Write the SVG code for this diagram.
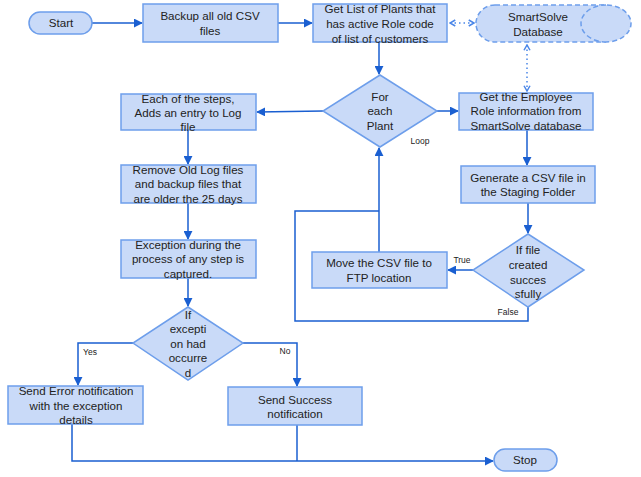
<svg xmlns="http://www.w3.org/2000/svg" width="641" height="477" viewBox="0 0 641 477">
<defs>
<style>
.n{fill:#c9daf8;stroke:#6d9eeb;stroke-width:1.5}
.d{fill:#c9daf8;stroke:#6d9eeb;stroke-width:1.5;stroke-dasharray:5,3}
.t{font-family:"Liberation Sans",Arial,sans-serif;font-size:11.6px;fill:#222;text-anchor:middle}
.l{font-family:"Liberation Sans",Arial,sans-serif;font-size:8.5px;fill:#222;text-anchor:middle}
.c{fill:none;stroke:#1a5fd1;stroke-width:1.5}
.a{marker-end:url(#ah)}
.dot{fill:none;stroke:#4a86e8;stroke-width:1.5;stroke-dasharray:1.5,3;marker-start:url(#oh);marker-end:url(#oh)}
</style>
<marker id="ah" viewBox="0 0 10 10" refX="9" refY="5" markerWidth="6" markerHeight="6" orient="auto" markerUnits="strokeWidth"><path d="M0,0 L10,5 L0,10 Z" fill="#1a5fd1"/></marker>
<marker id="oh" viewBox="0 0 10 10" refX="8" refY="5" markerWidth="5" markerHeight="5" orient="auto-start-reverse" markerUnits="strokeWidth"><path d="M1,1 L8,5 L1,9" fill="none" stroke="#4a86e8" stroke-width="2"/></marker>
</defs>
<rect width="641" height="477" fill="#fff"/>
<g id="connectors">
<path class="c a" d="M92,23 H142"/>
<path class="c a" d="M278,23 H312"/>
<path class="dot" d="M450,23 H474"/>
<path class="dot" d="M527,45 V91"/>
<path class="c a" d="M379,42 V74"/>
<path class="c a" d="M437,111 H458"/>
<path class="c a" d="M323,111 L257,112"/>
<path class="c a" d="M188,130 V164"/>
<path class="c a" d="M188,203 V239"/>
<path class="c a" d="M188,278 V306"/>
<path class="c a" d="M133,343 H78 V385"/>
<path class="c a" d="M243,343 H297 V386"/>
<path class="c" d="M297,425 V461"/>
<path class="c a" d="M72,424 V461 H493"/>
<path class="c a" d="M527,130 V165"/>
<path class="c a" d="M528,203 V233"/>
<path class="c a" d="M473,270 H448"/>
<path class="c a" d="M379,252 V148"/>
<path class="c" d="M528,307 V321 H295 V211 H379"/>
<text class="l" x="420" y="144">Loop</text>
<text class="l" x="462" y="263">True</text>
<text class="l" x="508" y="315">False</text>
<text class="l" x="90" y="355">Yes</text>
<text class="l" x="285" y="354">No</text>
</g>
<g id="start"><rect class="n" x="29" y="12" width="63" height="22" rx="11"/><text class="t" x="61" y="27">Start</text></g>
<g id="backup"><rect class="n" x="143" y="4" width="135" height="38"/><text class="t" x="210" y="20">Backup all old CSV</text><text class="t" x="210" y="35">files</text></g>
<g id="getlist"><rect class="n" x="313" y="4" width="134" height="38"/><text class="t" x="380" y="13">Get List of Plants that</text><text class="t" x="380" y="28">has active Role code</text><text class="t" x="380" y="43">of list of customers</text></g>
<g id="smartsolve"><path class="d" d="M495,5 H606 A25,18.5 0 0 1 606,42 H495 A19,18.5 0 0 1 495,5 Z"/><path class="d" fill="none" d="M606,5 A25,18.5 0 0 0 606,42"/><text class="t" x="538" y="21">SmartSolve</text><text class="t" x="538" y="36">Database</text></g>
<g id="foreach"><polygon class="n" points="380,75 437,111 380,147 323,111"/><text class="t" x="380" y="101">For</text><text class="t" x="380" y="115">each</text><text class="t" x="380" y="130">Plant</text></g>
<g id="getemployee"><rect class="n" x="459" y="93" width="134" height="37"/><text class="t" x="526" y="101">Get the Employee</text><text class="t" x="526" y="115">Role information from</text><text class="t" x="526" y="130">SmartSolve database</text></g>
<g id="eachstep"><rect class="n" x="121" y="94" width="135" height="36"/><text class="t" x="188" y="103">Each of the steps,</text><text class="t" x="188" y="117">Adds an entry to Log</text><text class="t" x="188" y="131">file</text></g>
<g id="remove"><rect class="n" x="121" y="165" width="135" height="38"/><text class="t" x="188" y="174">Remove Old Log files</text><text class="t" x="188" y="188">and backup files that</text><text class="t" x="188" y="203">are older the 25 days</text></g>
<g id="exception"><rect class="n" x="121" y="240" width="135" height="38"/><text class="t" x="188" y="249">Exception during the</text><text class="t" x="188" y="263">process of any step is</text><text class="t" x="188" y="278">captured.</text></g>
<g id="ifexception"><polygon class="n" points="188,307 243,343 188,380 133,343"/><text class="t" x="188" y="319">If</text><text class="t" x="188" y="333">excepti</text><text class="t" x="188" y="348">on had</text><text class="t" x="188" y="362">occurre</text><text class="t" x="188" y="377">d</text></g>
<g id="error"><rect class="n" x="8" y="386" width="135" height="38"/><text class="t" x="76" y="395">Send Error notification</text><text class="t" x="76" y="410">with the exception</text><text class="t" x="76" y="424">details</text></g>
<g id="success"><rect class="n" x="228" y="387" width="134" height="38"/><text class="t" x="295" y="404">Send Success</text><text class="t" x="295" y="418">notification</text></g>
<g id="stop"><rect class="n" x="494" y="449" width="63" height="22" rx="11"/><text class="t" x="525" y="464">Stop</text></g>
<g id="generate"><rect class="n" x="461" y="166" width="134" height="37"/><text class="t" x="528" y="182">Generate a CSV file in</text><text class="t" x="528" y="196">the Staging Folder</text></g>
<g id="iffile"><polygon class="n" points="528,234 584,270 528,307 473,270"/><text class="t" x="528" y="254">If file</text><text class="t" x="528" y="269">created</text><text class="t" x="528" y="284">succes</text><text class="t" x="528" y="298">sfully</text></g>
<g id="move"><rect class="n" x="312" y="252" width="135" height="36"/><text class="t" x="379" y="267">Move the CSV file to</text><text class="t" x="379" y="282">FTP location</text></g>
</svg>
